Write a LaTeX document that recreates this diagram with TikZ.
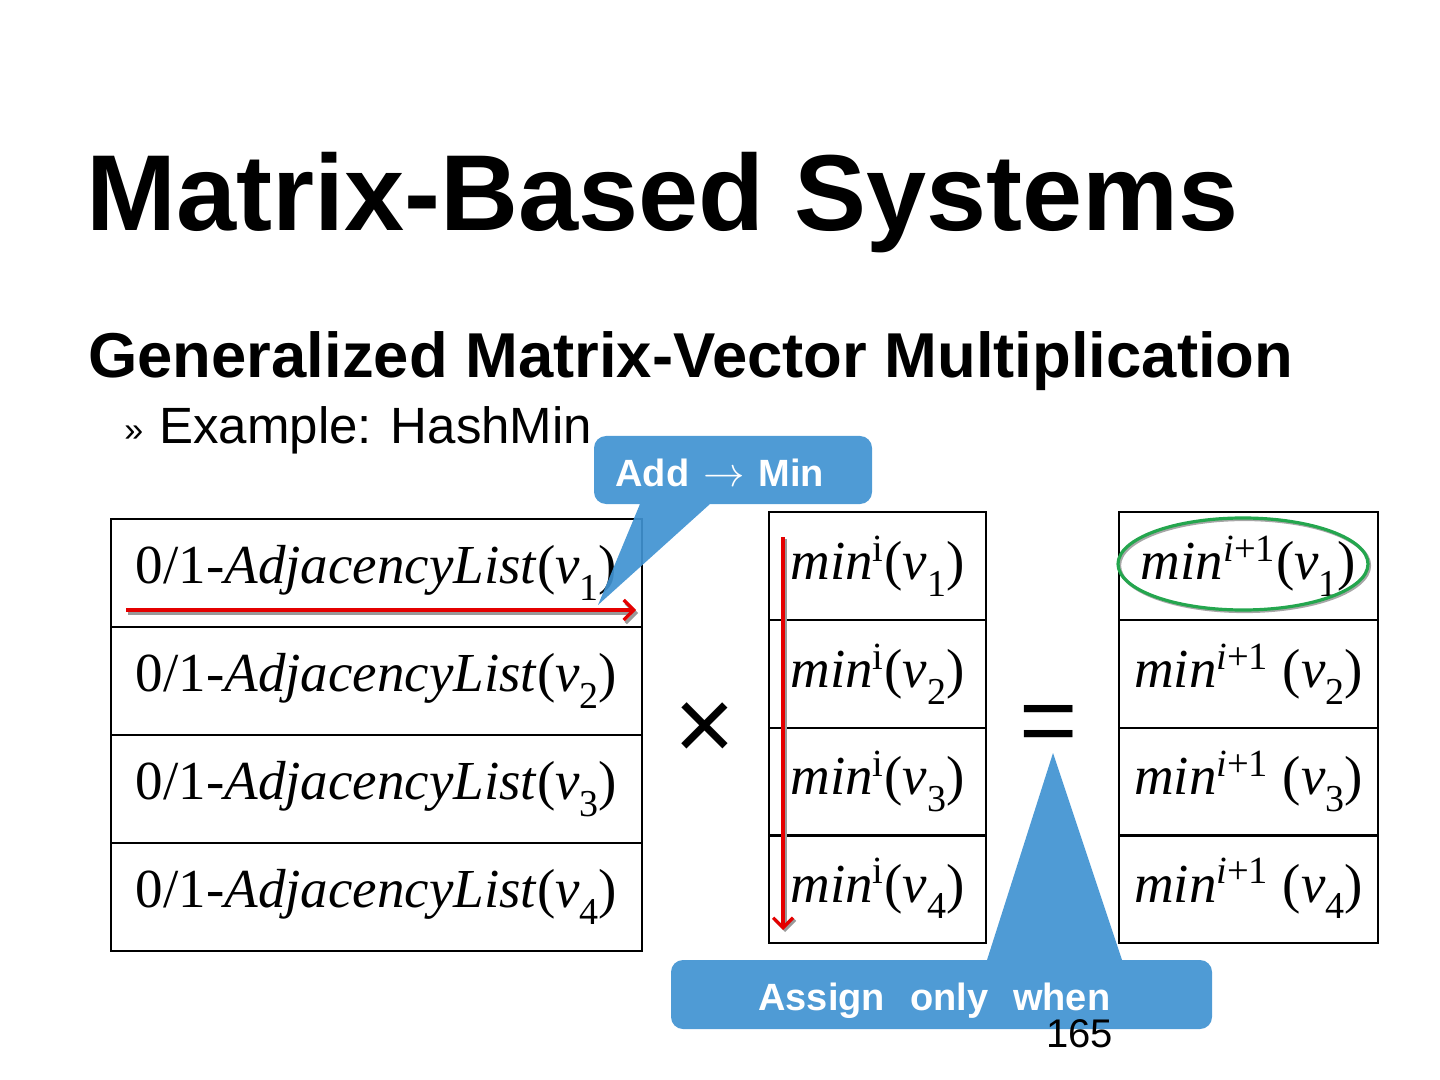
\documentclass[tikz,border=0pt]{standalone}
\usepackage{fontspec}
\setmainfont{Liberation Serif}
\newfontfamily\sfont{Liberation Sans}
\usetikzlibrary{arrows.meta,shapes.geometric}
\newcommand\lowsub[1]{\raisebox{-0.3em}{\fontsize{19}{19}\selectfont #1}}
\definecolor{callblue}{RGB}{79,155,213}
\definecolor{callbluedeep}{RGB}{64,146,209}
\definecolor{arrowred}{RGB}{228,0,0}
\definecolor{ringgreen}{RGB}{36,166,78}
\tikzset{
  cellL/.style={draw=black, line width=1pt, inner sep=0, minimum width=265.5pt, minimum height=54pt, font=\fontsize{27.5}{30}\selectfont},
  cellM/.style={draw=black, line width=1pt, inner sep=0, minimum width=108.5pt, minimum height=54pt, font=\fontsize{27.5}{30}\selectfont},
  cellR/.style={draw=black, line width=1pt, inner sep=0, minimum width=129.5pt, minimum height=54pt, font=\fontsize{27.5}{30}\selectfont},
  redarrow/.style={draw=arrowred, line width=1.6pt, -{Straight Barb[length=5pt,width=10pt,line width=1.6pt]}},
  shadowarrow/.style={draw=black!40, line width=1.6pt, -{Straight Barb[length=5pt,width=10pt,line width=1.6pt]}},
  callout/.style={fill=callblue},
  calltext/.style={text=white, inner sep=0, anchor=base west, font=\sfont\bfseries\fontsize{19}{21}\selectfont},
  plain/.style={inner sep=0, anchor=base west}
}
\begin{document}
\begin{tikzpicture}[x=0.5pt,y=-0.5pt]
\useasboundingbox (0,0) rectangle (1440,1080);
% titles
\node[plain, font=\sfont\bfseries\fontsize{54}{60}\selectfont] (title) at (86,231) {Matrix-Based Systems};
\node[plain, font=\sfont\bfseries\fontsize{31.7}{36}\selectfont] (sub) at (88,378) {Generalized Matrix-Vector Multiplication};
\node[plain, font=\sfont\fontsize{17}{20}\selectfont] (bul) at (124,442) {»};
\node[plain, font=\sfont\fontsize{25.5}{30}\selectfont] (ex) at (159,444) {Example: HashMin};
% left table
\node[cellL] (l1) at (376.5,573) {0/1-\textit{AdjacencyList}(\textit{v}\lowsub{1})};
\node[cellL] (l2) at (376.5,681) {0/1-\textit{AdjacencyList}(\textit{v}\lowsub{2})};
\node[cellL] (l3) at (376.5,789) {0/1-\textit{AdjacencyList}(\textit{v}\lowsub{3})};
\node[cellL] (l4) at (376.5,897) {0/1-\textit{AdjacencyList}(\textit{v}\lowsub{4})};
% middle table
\node[cellM] (m1) at (877.5,566) {\textit{min}\textsuperscript{i}(\textit{v}\lowsub{1})};
\node[cellM] (m2) at (877.5,674) {\textit{min}\textsuperscript{i}(\textit{v}\lowsub{2})};
\node[cellM] (m3) at (877.5,781.5) {\textit{min}\textsuperscript{i}(\textit{v}\lowsub{3})};
\node[cellM] (m4) at (877.5,888.5) {\textit{min}\textsuperscript{i}(\textit{v}\lowsub{4})};
% right table
\node[cellR] (r1) at (1248.5,566) {\textit{min}\textsuperscript{\textit{i}+1}(\textit{v}\lowsub{1})};
\node[cellR] (r2) at (1248.5,674) {\textit{min}\textsuperscript{\textit{i}+1} (\textit{v}\lowsub{2})};
\node[cellR] (r3) at (1248.5,781.5) {\textit{min}\textsuperscript{\textit{i}+1} (\textit{v}\lowsub{3})};
\node[cellR] (r4) at (1248.5,888.5) {\textit{min}\textsuperscript{\textit{i}+1} (\textit{v}\lowsub{4})};
% operators
\node[inner sep=0, font=\sfont\fontsize{52}{56}\selectfont] (times) at (705,732) {×};
\node[inner sep=0, font=\sfont\fontsize{50}{56}\selectfont] (eq) at (1049,730) {=};
% green ring
\node[draw=black!35, line width=1.6pt, ellipse, minimum width=125pt, minimum height=46pt, inner sep=0] (ringshadow) at (1244.5,565.5) {};
\node[draw=ringgreen, line width=1.6pt, ellipse, minimum width=125pt, minimum height=46pt, inner sep=0] (ring) at (1243,564) {};
% red arrows
\coordinate (ha) at (126,610);
\coordinate (hb) at (636,610);
\coordinate (has) at (128,613);
\coordinate (hbs) at (638,613);
\coordinate (va) at (783,537);
\coordinate (vb) at (783,930);
\coordinate (vas) at (785,539);
\coordinate (vbs) at (785,932);
\draw[shadowarrow] (has) -- (hbs);
\draw[redarrow] (ha) -- (hb);
\draw[shadowarrow] (vas) -- (vbs);
\draw[redarrow] (va) -- (vb);
% top callout
\fill[fill=callbluedeep, fill opacity=0.92]
  (594,470) [rounded corners=6pt] -- (594,436) -- (872,436) -- (872,504) [sharp corners] -- (710,504) -- (598,605) -- (640,504) [rounded corners=6pt] -- (594,504) -- (594,470) -- cycle;
\node[calltext] (addtxt) at (615,487) {Add\hspace{7pt}{\normalfont\fontsize{22}{22}\selectfont$\rightarrow$}\hspace{7pt}Min};
% bottom callout
\fill[callout]
  (671,995) [rounded corners=6pt] -- (671,960) [sharp corners] -- (987,960) -- (1053,753) -- (1122,960) [rounded corners=6pt] -- (1212,960) -- (1212,1029) -- (671,1029) -- (671,995) -- cycle;
\node[calltext] (assigntxt) at (758,1010) {Assign\hspace{12.5pt}only\hspace{12.5pt}when};
% page number
\node[plain, font=\sfont\fontsize{20}{24}\selectfont] (page) at (1046,1047) {165};
\end{tikzpicture}
\end{document}
